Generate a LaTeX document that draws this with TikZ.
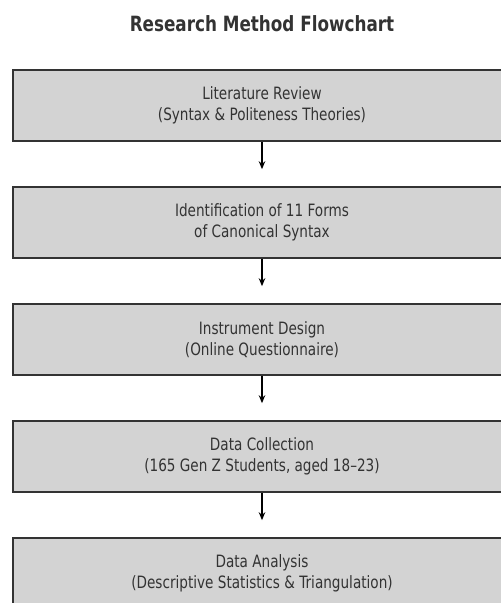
\documentclass[tikz,border=0pt]{standalone}
\usepackage{fontspec}
\setmainfont{DejaVu Sans}[FakeStretch=0.8]
\usepackage{tikz}
\usetikzlibrary{positioning, arrows.meta}
\definecolor{boxgray}{HTML}{D3D3D3}
\definecolor{textgray}{HTML}{333333}

\tikzset{
    stepbox/.style={draw=textgray, line width=1.6pt, fill=boxgray, text=textgray,
        rectangle, minimum width=498pt, minimum height=71pt, align=center,
        font=\fontsize{17}{21}\selectfont, inner sep=0pt},
}

\begin{document}
\begin{tikzpicture}[>={Stealth[length=8pt, width=6.5pt]}]
    \useasboundingbox (0,0) rectangle (501pt,-603pt);
    \clip (0,0) rectangle (501pt,-603pt);

    % Title
    \node[text=textgray, font=\fontsize{21}{25}\selectfont\bfseries] (title) at (262pt,-24pt) {Research Method Flowchart};

    % Steps
    \node[stepbox] (review) at (262pt,-105.5pt) {Literature Review\\(Syntax \& Politeness Theories)};
    \node[stepbox, below=44.4pt of review] (forms) {Identification of 11 Forms\\of Canonical Syntax};
    \node[stepbox, below=44.4pt of forms] (design) {Instrument Design\\(Online Questionnaire)};
    \node[stepbox, below=44.4pt of design] (collect) {Data Collection\\(165 Gen Z Students, aged 18--23)};
    \node[stepbox, below=44.4pt of collect] (analysis) {Data Analysis\\(Descriptive Statistics \& Triangulation)};

    % Connections
    \draw[->, line width=1.4pt, shorten >=17pt] (review) -- (forms);
    \draw[->, line width=1.4pt, shorten >=17pt] (forms) -- (design);
    \draw[->, line width=1.4pt, shorten >=17pt] (design) -- (collect);
    \draw[->, line width=1.4pt, shorten >=17pt] (collect) -- (analysis);
\end{tikzpicture}
\end{document}
